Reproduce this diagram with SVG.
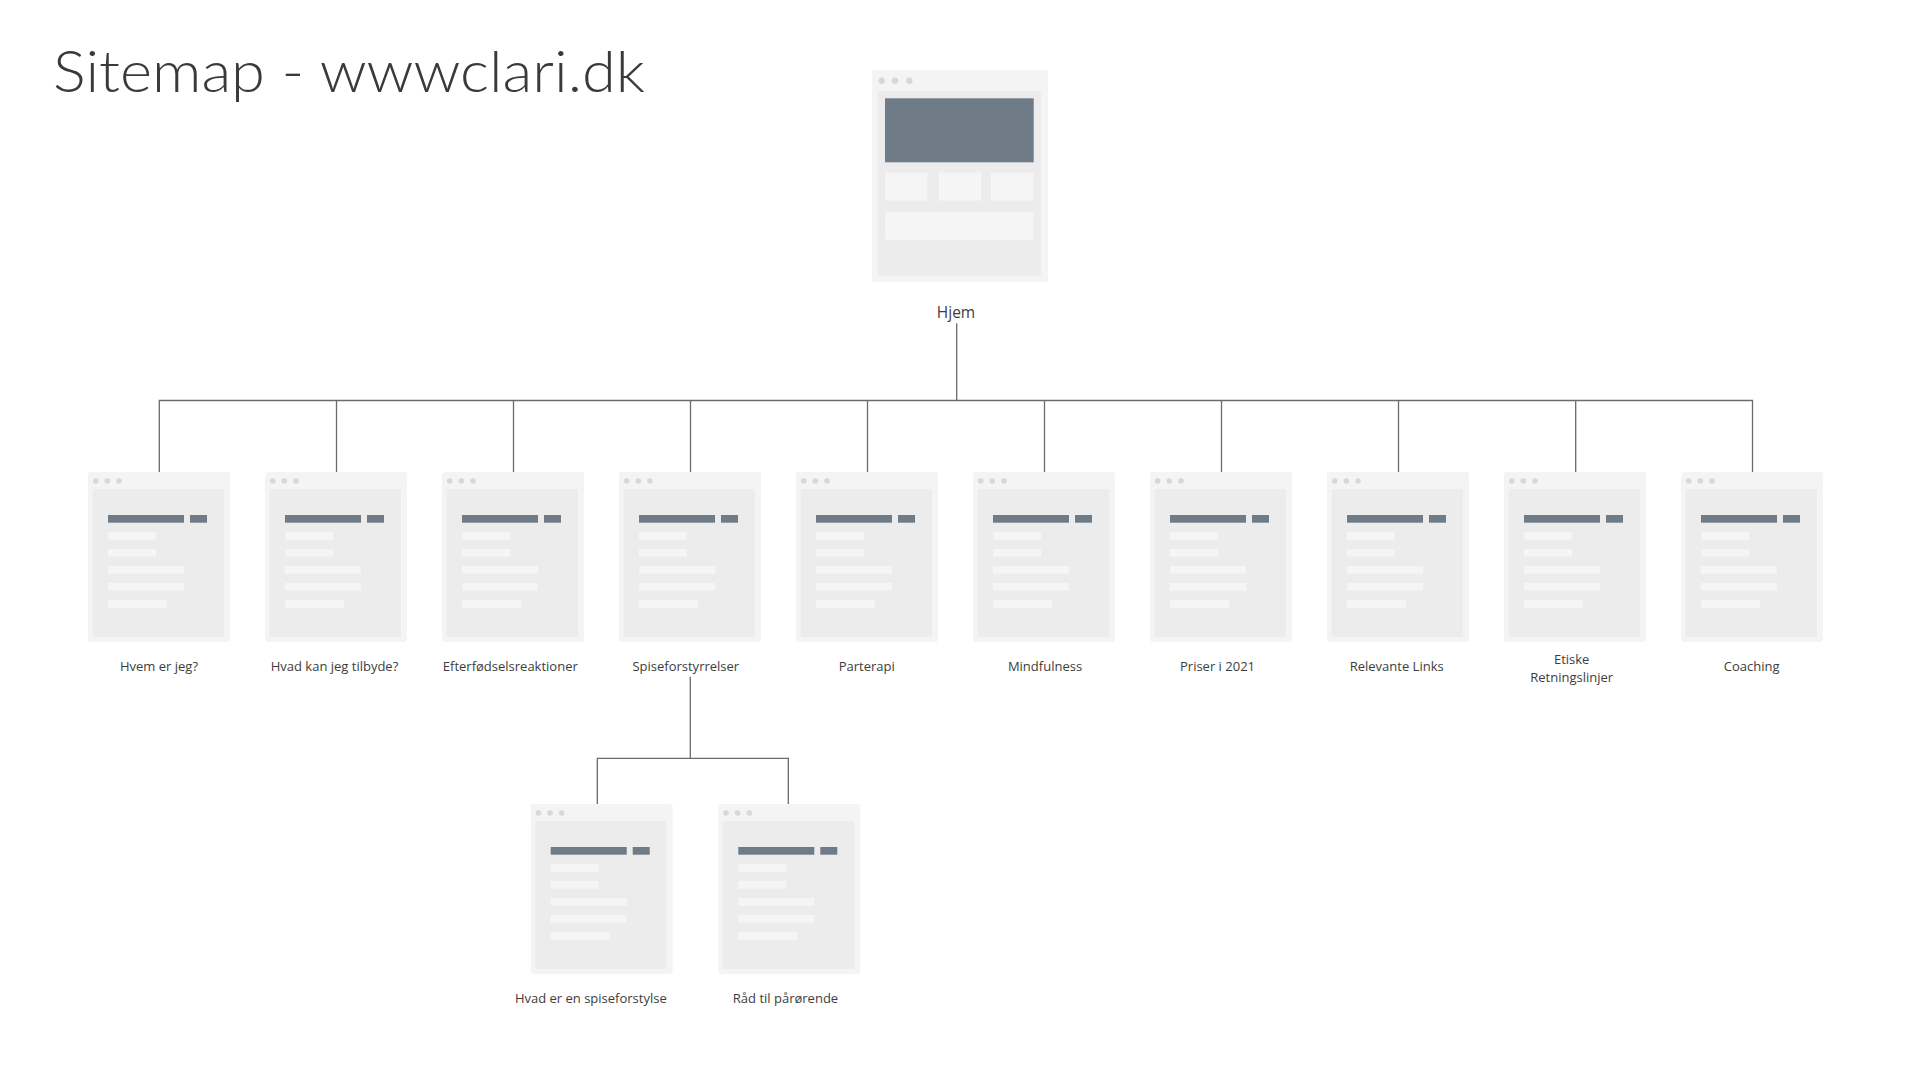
<svg xmlns="http://www.w3.org/2000/svg" xmlns:xlink="http://www.w3.org/1999/xlink" width="1920" height="1079" viewBox="0 0 1920 1079">
<style>
.frame{fill:#f4f4f4}
.panel{fill:#ececec}
.dot{fill:#d8d8d8}
.dark{fill:#6f7c88}
.light{fill:#f5f5f5}
.conn{fill:none;stroke:#6b6b6b;stroke-width:1.3}
.lbl{font-family:"Open Sans","Noto Sans","Liberation Sans",sans-serif;font-size:13px;fill:#3d3d3d;text-anchor:middle}
.title{font-family:Lato,"Liberation Sans",sans-serif;font-weight:300;font-size:57px;fill:#3a3a3a}
</style>
<defs>
<g id="page">
<rect class="frame" x="0" y="0" width="142" height="170" rx="3"/>
<circle class="dot" cx="7.7" cy="9" r="2.8"/>
<circle class="dot" cx="19.3" cy="9" r="2.8"/>
<circle class="dot" cx="31" cy="9" r="2.8"/>
<rect class="panel" x="4.7" y="17" width="131.3" height="148" rx="1.5"/>
<rect class="dark" x="20" y="43" width="76" height="7.7"/>
<rect class="dark" x="102" y="43" width="17" height="7.7"/>
<rect class="light" x="20" y="60" width="48" height="7.7"/>
<rect class="light" x="20" y="77" width="48" height="7.7"/>
<rect class="light" x="20" y="94" width="76" height="7.7"/>
<rect class="light" x="20" y="111" width="76" height="7.7"/>
<rect class="light" x="20" y="128" width="59" height="7.7"/>
</g>
</defs>
<rect x="0" y="0" width="1920" height="1079" fill="#ffffff"/>
<text class="title" x="53" y="92" textLength="592" lengthAdjust="spacingAndGlyphs">Sitemap - wwwclari.dk</text>

<g id="connectors">
<path class="conn" d="M956.7 323.3V400.5"/>
<path class="conn" d="M159.3 472V400.5H1752.5V472"/>
<path class="conn" d="M336.5 400.5V472M513.5 400.5V472M690.5 400.5V472M867.5 400.5V472M1044.5 400.5V472M1221.5 400.5V472M1398.5 400.5V472M1575.7 400.5V472"/>
<path class="conn" d="M690.3 676.7V758.3"/>
<path class="conn" d="M597.3 804V758.3H788.3V804"/>
</g>

<g id="node-hjem">
<rect class="frame" x="872" y="70" width="176" height="212" rx="3"/>
<circle class="dot" cx="881.7" cy="80.7" r="3.2"/>
<circle class="dot" cx="895" cy="80.7" r="3.2"/>
<circle class="dot" cx="909.3" cy="80.7" r="3.2"/>
<rect class="panel" x="877.7" y="91" width="163.3" height="184.7" rx="1.5"/>
<rect class="dark" x="885" y="98.3" width="148.7" height="64"/>
<rect class="light" x="885" y="172.7" width="42.3" height="28"/>
<rect class="light" x="939" y="172.7" width="42" height="28"/>
<rect class="light" x="991" y="172.7" width="42.7" height="28"/>
<rect class="light" x="885" y="212.3" width="148.7" height="27.4"/>
<text class="lbl" x="956" y="318" style="font-size:15.5px">Hjem</text>
</g>

<g id="node-hvem">
<use xlink:href="#page" x="88" y="472"/>
<text class="lbl" x="159" y="671">Hvem er jeg?</text>
</g>
<g id="node-hvad-kan">
<use xlink:href="#page" x="265" y="472"/>
<text class="lbl" x="334.5" y="671">Hvad kan jeg tilbyde?</text>
</g>
<g id="node-efterfoedsel">
<use xlink:href="#page" x="442" y="472"/>
<text class="lbl" x="510.3" y="671">Efterfødselsreaktioner</text>
</g>
<g id="node-spise">
<use xlink:href="#page" x="619" y="472"/>
<text class="lbl" x="685.8" y="671">Spiseforstyrrelser</text>
</g>
<g id="node-parterapi">
<use xlink:href="#page" x="796" y="472"/>
<text class="lbl" x="866.7" y="671">Parterapi</text>
</g>
<g id="node-mindfulness">
<use xlink:href="#page" x="973" y="472"/>
<text class="lbl" x="1045" y="671">Mindfulness</text>
</g>
<g id="node-priser">
<use xlink:href="#page" x="1150" y="472"/>
<text class="lbl" x="1217.5" y="671">Priser i 2021</text>
</g>
<g id="node-links">
<use xlink:href="#page" x="1327" y="472"/>
<text class="lbl" x="1396.7" y="671">Relevante Links</text>
</g>
<g id="node-etiske">
<use xlink:href="#page" x="1504" y="472"/>
<text class="lbl" x="1571.7" y="663.5">Etiske</text>
<text class="lbl" x="1571.7" y="681.5">Retningslinjer</text>
</g>
<g id="node-coaching">
<use xlink:href="#page" x="1681" y="472"/>
<text class="lbl" x="1751.7" y="671">Coaching</text>
</g>
<g id="node-hvad-er">
<use xlink:href="#page" x="530.7" y="804"/>
<text class="lbl" x="590.8" y="1002.8">Hvad er en spiseforstylse</text>
</g>
<g id="node-raad">
<use xlink:href="#page" x="718.3" y="804"/>
<text class="lbl" x="785.5" y="1002.8">Råd til pårørende</text>
</g>
</svg>
